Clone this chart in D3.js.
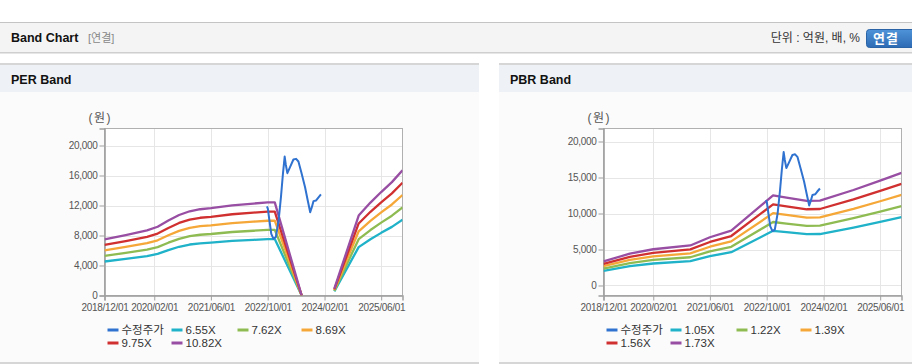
<!DOCTYPE html>
<html><head><meta charset="utf-8">
<script src="https://cdn.jsdelivr.net/npm/d3@7"></script>
<style>
body{margin:0;background:#fff;}
svg{display:block;font-family:"Liberation Sans",Arial,"Noto Sans CJK KR",sans-serif;}
</style></head><body>
<svg id="c" width="912" height="364"></svg>
<script>
// ---------- DATA ----------
const xTickLabels = ["2018/12/01","2020/02/01","2021/06/01","2022/10/01","2024/02/01","2025/06/01"];
const perYTicks = [0,4000,8000,12000,16000,20000];
const pbrYTicks = [0,5000,10000,15000,20000];
const perMultiples = [6.55,7.62,8.69,9.75,10.82];
const pbrMultiples = [1.05,1.22,1.39,1.56,1.73];
const perLegend = ["수정주가","6.55X","7.62X","8.69X","9.75X","10.82X"];
const pbrLegend = ["수정주가","1.05X","1.22X","1.39X","1.56X","1.73X"];

// 수정주가 (adjusted price)
const priceDates = ["2022-09-25","2022-10-03","2022-10-16","2022-11-01","2022-11-20","2022-12-10","2023-01-03","2023-01-23","2023-02-09","2023-02-24","2023-03-05","2023-03-19","2023-04-11","2023-05-10","2023-06-02","2023-06-22","2023-07-20","2023-08-18","2023-09-10","2023-10-01","2023-10-15","2023-10-29","2023-11-21","2023-12-08","2024-01-01"];
const priceValues = [11870,11550,10000,8220,7560,7780,10000,13110,16220,18530,17500,16310,17110,18130,18220,17870,16220,14440,12670,11110,11780,12580,12670,13020,13470];

// EPS (per-share earnings used for PER band), null = no data
const epsDates = ["2018-12-01","2019-06-01","2019-12-01","2020-03-01","2020-06-01","2020-09-01","2020-12-01","2021-03-01","2021-06-01","2021-12-01","2022-06-01","2022-10-01","2022-12-01","2023-07-20","2024-01-01","2024-04-25","2024-11-20","2025-03-01","2025-06-01","2025-09-01","2025-12-01"];
const epsValues = [692,745,802,847,924,992,1038,1063,1076,1111,1133,1147,1148,0,null,84,985,1145,1275,1397,1542];

// BPS (per-share book value used for PBR band)
const bpsDates = ["2018-12-01","2019-07-15","2020-02-01","2020-12-15","2021-06-01","2021-12-01","2022-11-25","2023-03-20","2023-09-10","2024-01-01","2024-10-15","2025-06-01","2025-12-01"];
const bpsValues = [1933,2552,2910,3214,3875,4405,7229,7050,6787,6810,7667,8417,9048];

// ---------- STYLE ----------
const lineColors = ["#2f72cf","#1fb2c8","#8fbc52","#f5a838","#d03030","#984ea3"];
const parse = d3.timeParse("%Y-%m-%d");
const parseTick = d3.timeParse("%Y/%m/%d");
const svg = d3.select("#c");

// page header
svg.append("rect").attr("x",0).attr("y",22).attr("width",912).attr("height",30).attr("fill","#f4f4f4");
svg.append("line").attr("x1",0).attr("x2",912).attr("y1",22.5).attr("y2",22.5).attr("stroke","#c4c4c4");
svg.append("rect").attr("x",0).attr("y",52).attr("width",912).attr("height",1).attr("fill","#cfcfcf");
svg.append("rect").attr("x",0).attr("y",53).attr("width",912).attr("height",1).attr("fill","#e6e6e6");
svg.append("text").attr("x",11).attr("y",42).attr("font-size",12.5).attr("font-weight","bold").attr("fill","#111").text("Band Chart");
svg.append("text").attr("x",88).attr("y",42).attr("font-size",11).attr("fill","#888").text("[연결]");
svg.append("text").attr("x",860).attr("y",42).attr("text-anchor","end").attr("font-size",12).attr("fill","#333").text("단위 : 억원, 배, %");
const defs = svg.append("defs");
const grad = defs.append("linearGradient").attr("id","btn").attr("x1",0).attr("x2",0).attr("y1",0).attr("y2",1);
grad.append("stop").attr("offset","0%").attr("stop-color","#4f93d8");
grad.append("stop").attr("offset","100%").attr("stop-color","#2d6bb4");
svg.append("rect").attr("x",866.5).attr("y",29.5).attr("width",52).attr("height",18).attr("rx",3).attr("fill","url(#btn)").attr("stroke","#2a64a6");
svg.append("text").attr("x",886).attr("y",43).attr("text-anchor","middle").attr("font-size",13).attr("font-weight","bold").attr("fill","#fff").attr("letter-spacing",1).text("연결");

function drawPanel(cfg) {
  const g = svg.append("g");
  // panel frame
  g.append("rect").attr("x",cfg.x0).attr("y",63).attr("width",cfg.x1-cfg.x0).attr("height",2).attr("fill","#d6d6d6");
  g.append("rect").attr("x",cfg.x0).attr("y",65).attr("width",cfg.x1-cfg.x0).attr("height",27).attr("fill","#eef1f6");
  g.append("rect").attr("x",cfg.x0).attr("y",92).attr("width",cfg.x1-cfg.x0).attr("height",270).attr("fill","#fbfbfb");
  g.append("rect").attr("x",cfg.x0).attr("y",362).attr("width",cfg.x1-cfg.x0).attr("height",2).attr("fill","#d6d6d6");
  g.append("text").attr("x",cfg.x0+11).attr("y",84).attr("font-size",12.5).attr("font-weight","bold").attr("fill","#111").text(cfg.title);

  const {l,r,t,b} = cfg.plot;
  const x = d3.scaleTime().domain([parse("2018-12-01"), parse("2025-12-01")]).range([l,r]);
  const y = d3.scaleLinear().domain(cfg.yDomain).range([b,t]);
  const xTicks = xTickLabels.map(s => parseTick(s));

  g.append("rect").attr("x",l).attr("y",t).attr("width",r-l).attr("height",b-t).attr("fill","#fff");
  // grid
  g.append("g").selectAll("line").data(cfg.yTicks).join("line")
    .attr("x1",l).attr("x2",r).attr("y1",d=>Math.round(y(d))+0.5).attr("y2",d=>Math.round(y(d))+0.5)
    .attr("stroke","#e6e6e6");
  g.append("g").selectAll("line").data(xTicks).join("line")
    .attr("y1",t).attr("y2",b).attr("x1",d=>Math.round(x(d))+0.5).attr("x2",d=>Math.round(x(d))+0.5)
    .attr("stroke","#e6e6e6");
  // frame
  g.append("rect").attr("x",l).attr("y",t).attr("width",r-l).attr("height",b-t).attr("fill","none").attr("stroke","#b0b0b0");

  // axes
  const yAxis = g.append("g").attr("transform",`translate(${l},0)`)
    .call(d3.axisLeft(y).tickValues(cfg.yTicks).tickSize(5).tickPadding(2).tickFormat(d3.format(",")));
  const xAxis = g.append("g").attr("transform",`translate(0,${b})`)
    .call(d3.axisBottom(x).tickValues(xTicks).tickSize(5).tickPadding(3).tickFormat(d3.timeFormat("%Y/%m/%d")));
  [yAxis,xAxis].forEach(a=>{
    a.select(".domain").attr("stroke","#a0a0a0").attr("stroke-width",1.5);
    a.selectAll(".tick line").attr("stroke","#a0a0a0");
    a.selectAll("text").attr("font-size",10).attr("fill","#555").attr("letter-spacing",-0.3)
      .attr("font-family","'Liberation Sans',Arial,sans-serif");
  });
  g.append("text").attr("x",l-16).attr("y",t-7).attr("font-size",12).attr("fill","#555").attr("letter-spacing",1.5).text("(원)");

  // clip
  const cid = "clip"+cfg.title.replace(/\s/g,"");
  defs.append("clipPath").attr("id",cid).append("rect").attr("x",l).attr("y",t).attr("width",r-l).attr("height",b-t);
  const pg = g.append("g").attr("clip-path",`url(#${cid})`);

  const baseDates = cfg.baseDates.map(parse);
  const line = d3.line().defined(d=>d.v!=null).x(d=>x(d.d)).y(d=>y(d.v));
  cfg.multiples.forEach((m,i)=>{
    const pts = baseDates.map((d,j)=>({d, v: cfg.baseValues[j]==null?null:cfg.baseValues[j]*m}));
    pg.append("path").datum(pts).attr("d",line).attr("fill","none")
      .attr("stroke",lineColors[i+1]).attr("stroke-width",2.3).attr("stroke-linejoin","round");
  });
  const ppts = priceDates.map((d,j)=>({d:parse(d), v:priceValues[j]}));
  pg.append("path").datum(ppts).attr("d",line).attr("fill","none")
    .attr("stroke",lineColors[0]).attr("stroke-width",2).attr("stroke-linejoin","round");

  // legend
  const cols = [17,81,147,211];
  cfg.legend.forEach((name,i)=>{
    const tx = l + cols[i%4];
    const ty = i<4 ? 330 : 343;
    g.append("line").attr("x1",tx-14).attr("x2",tx-3).attr("y1",ty).attr("y2",ty)
      .attr("stroke",lineColors[i]).attr("stroke-width",3);
    g.append("text").attr("x",tx).attr("y",ty).attr("dy","0.35em").attr("font-size",11.5).attr("fill","#333").text(name);
  });
}

drawPanel({x0:0,x1:479,title:"PER Band",plot:{l:104.5,r:402.5,t:128.5,b:295.5},
  yDomain:[0,22267], yTicks:perYTicks, multiples:perMultiples, baseDates:epsDates, baseValues:epsValues, legend:perLegend});
drawPanel({x0:499,x1:912,title:"PBR Band",plot:{l:603.5,r:901.5,t:128.5,b:295.5},
  yDomain:[-1389,21806], yTicks:pbrYTicks, multiples:pbrMultiples, baseDates:bpsDates, baseValues:bpsValues, legend:pbrLegend});
</script>
</body></html>
